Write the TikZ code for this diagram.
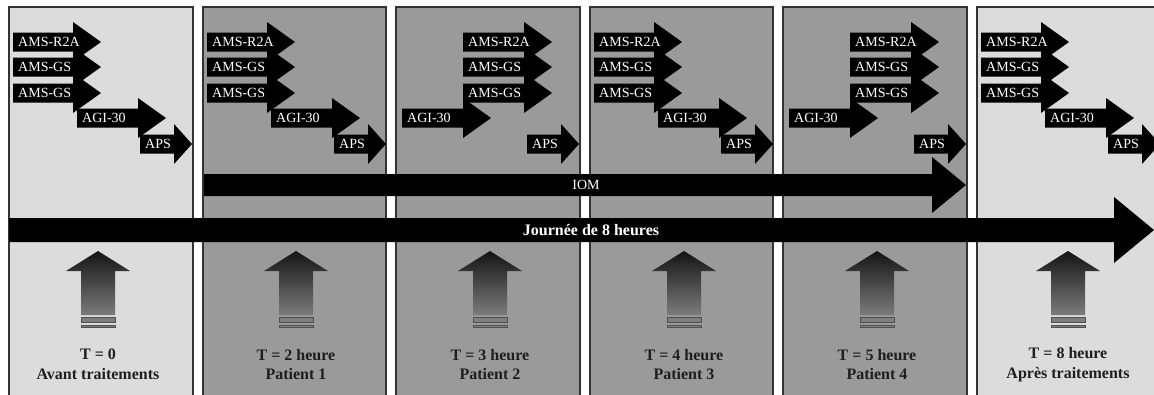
\documentclass[tikz,border=0pt]{standalone}
\usepackage{fontspec}
\setmainfont{Liberation Serif}
\definecolor{panellight}{HTML}{DCDCDC}
\definecolor{paneldark}{HTML}{9A9A9A}
\definecolor{frameink}{HTML}{333333}
\definecolor{captionink}{HTML}{1E1E1E}
\definecolor{uptop}{HTML}{141414}
\definecolor{upbottom}{HTML}{7C7C7C}
\definecolor{barfill}{HTML}{7E7E7E}
\definecolor{baredge}{HTML}{505050}
\pgfdeclarelayer{front}
\pgfsetlayers{main,front}
\tikzset{
  panelbox/.style={draw=frameink, line width=1.3pt},
  tagfill/.style={fill=black},
  taglabel/.style={text=white, font=\fontsize{14}{14}\selectfont, inner sep=0pt, anchor=west},
  bandfill/.style={fill=black},
  bandlabel/.style={text=white, inner sep=0pt},
  caption/.style={text=captionink, font=\bfseries\fontsize{16}{19.5}\selectfont, align=center, inner sep=0pt},
  upbar/.style={fill=barfill, draw=baredge, line width=0.6pt},
}
% block arrow with a label: name, left x, centre y, body length, head length, text
\newcommand\tagarrow[6]{%
  \fill[tagfill] (#2,#3-9.5) -- ++(#4,0) -- ++(0,-10.5) -- ++(#5,20) -- ++(-#5,20)
    -- ++(0,-10.5) -- ++(-#4,0) -- cycle;
  \begin{pgfonlayer}{front}
    \node[taglabel] (#1) at (#2+5,#3) {#6};
  \end{pgfonlayer}}
% staggered set: AMS first, then AGI-30, then APS
\newcommand\tagsStair[2]{%
  \tagarrow{#1r}{#2+4}{42}{60}{28}{AMS-R2A}
  \tagarrow{#1g}{#2+4}{67}{60}{28}{AMS-GS}
  \tagarrow{#1h}{#2+4}{93}{60}{28}{AMS-GS}
  \tagarrow{#1a}{#2+68}{118}{61}{28}{AGI-30}
  \tagarrow{#1p}{#2+131}{144}{34}{18}{APS}}
% AGI-30 first, AMS after it, then APS
\newcommand\tagsShift[2]{%
  \tagarrow{#1r}{#2+67}{42}{61}{28}{AMS-R2A}
  \tagarrow{#1g}{#2+67}{67}{61}{28}{AMS-GS}
  \tagarrow{#1h}{#2+67}{93}{61}{28}{AMS-GS}
  \tagarrow{#1a}{#2+6}{118}{61}{28}{AGI-30}
  \tagarrow{#1p}{#2+131}{144}{34}{18}{APS}}
% upward gradient arrow with two bars under it: name, centre x
\newcommand\upmark[2]{%
  \coordinate (#1) at (#2,251);
  \shade[top color=uptop, bottom color=upbottom] (#1) -- ++(32,20) -- ++(-15,0) -- ++(0,44)
    -- ++(-34,0) -- ++(0,-44) -- ++(-15,0) -- cycle;
  \draw[upbar] (#2-17,317.5) rectangle (#2+17,322);
  \draw[upbar] (#2-17,325) rectangle (#2+17,327.5);}
\begin{document}
\begin{tikzpicture}[x=1pt, y=-1pt]
\clip (0,0) rectangle (1154,394);
\fill[white] (0,0) rectangle (1154,394);

% time panels
\draw[panelbox, fill=panellight] (9,7) rectangle (193,400);
\draw[panelbox, fill=paneldark] (203,7) rectangle (386,400);
\draw[panelbox, fill=paneldark] (396,7) rectangle (580,400);
\draw[panelbox, fill=paneldark] (590,7) rectangle (773,400);
\draw[panelbox, fill=paneldark] (783,7) rectangle (967,400);
\draw[panelbox, fill=panellight] (977,7) rectangle (1162,400);

% analyses run in each panel
\tagsStair{pa}{9}
\tagsStair{pb}{203}
\tagsShift{pc}{396}
\tagsStair{pd}{590}
\tagsShift{pe}{783}
\tagsStair{pf}{977}

% IOM band
\coordinate (iomtail) at (204,185);
\coordinate (iomtip) at (966,185);
\fill[bandfill] (iomtail) ++(0,-11) -- (932,174) -- (932,157) -- (iomtip) -- (932,213)
  -- (932,196) -- ++(-728,0) -- cycle;
\node[bandlabel, font=\fontsize{14}{14}\selectfont] (iom) at (586,185) {IOM};

% working day band
\coordinate (daytail) at (9,230);
\coordinate (daytip) at (1154,230);
\fill[bandfill] (daytail) ++(0,-12) -- (1114,218) -- (1114,197) -- (daytip) -- (1114,263)
  -- (1114,242) -- (9,242) -- cycle;
\node[bandlabel, font=\bfseries\fontsize{16}{16}\selectfont] (day) at (591,230.5) {Journée de 8 heures};

% sampling times
\upmark{ua}{98}
\upmark{ub}{296}
\upmark{uc}{490}
\upmark{ud}{684}
\upmark{ue}{877}
\upmark{uf}{1068}
\node[caption] (ca) at (98,364.5) {T = 0\\Avant traitements};
\node[caption] (cb) at (296,364.5) {T = 2 heure\\Patient 1};
\node[caption] (cc) at (490,364.5) {T = 3 heure\\Patient 2};
\node[caption] (cd) at (684,364.5) {T = 4 heure\\Patient 3};
\node[caption] (ce) at (877,364.5) {T = 5 heure\\Patient 4};
\node[caption] (cf) at (1068,364.5) {T = 8 heure\\Après traitements};
\end{tikzpicture}
\end{document}
